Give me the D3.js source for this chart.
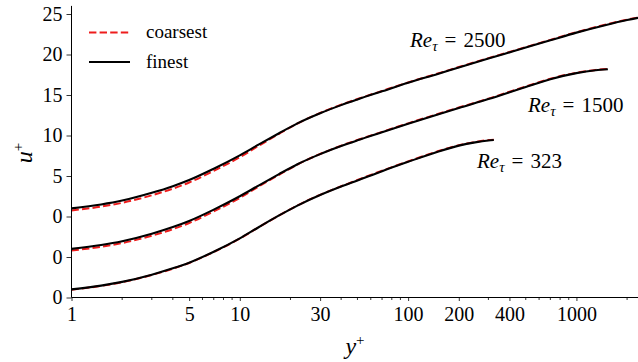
<!DOCTYPE html>
<html><head><meta charset="utf-8">
<script src="https://cdn.jsdelivr.net/npm/d3@7"></script>
<style>
html,body{margin:0;padding:0;background:#fff;}
svg{display:block;}
svg text{font-family:"Liberation Serif","DejaVu Serif","Times New Roman",serif !important;fill:#000;}
</style>
</head><body>
<script>
// ---- data ----
const caseLabels = ["323", "1500", "2500"];
const offsets = [-10, -5, 0];

const yPlus323 = [1,1.5,2,3,4,5,7,10,13,17,22,30,40,50,70,100,150,200,250,300,323];
const uFine323 = [1.0,1.47,1.93,2.82,3.6,4.3,5.65,7.3,8.7,10.1,11.35,12.65,13.7,14.45,15.6,16.75,18.0,18.75,19.15,19.38,19.44];
const uCoarse323 = [0.96,1.43,1.89,2.78,3.56,4.26,5.62,7.28,8.7,10.1,11.37,12.68,13.73,14.5,15.65,16.8,18.05,18.8,19.2,19.43,19.48];

const yPlus1500 = [1,1.5,2,3,4,5,7,10,13,17,22,30,40,50,70,100,150,200,300,500,700,1000,1300,1538];
const uFine1500 = [1.0,1.48,1.95,2.88,3.7,4.45,5.85,7.5,8.85,10.2,11.45,12.7,13.7,14.4,15.4,16.45,17.6,18.4,19.5,21.0,21.95,22.7,23.05,23.18];
const uCoarse1500 = [0.8,1.26,1.72,2.63,3.44,4.2,5.62,7.3,8.72,10.12,11.42,12.72,13.74,14.45,15.45,16.5,17.65,18.45,19.55,21.05,22.0,22.75,23.1,23.23];

const yPlus2500 = [1,1.5,2,3,4,5,7,10,13,17,22,30,40,50,70,100,150,200,300,421,700,1000,1500,2000,2500];
const uFine2500 = [1.0,1.49,1.97,2.92,3.74,4.5,5.9,7.55,8.9,10.25,11.5,12.75,13.75,14.45,15.45,16.5,17.6,18.4,19.5,20.4,21.75,22.7,23.65,24.25,24.65];
const uCoarse2500 = [0.75,1.22,1.69,2.62,3.44,4.2,5.63,7.32,8.75,10.18,11.48,12.78,13.8,14.5,15.5,16.55,17.65,18.45,19.55,20.45,21.8,22.75,23.7,24.3,24.7];

const xTickValues = [1,5,10,30,100,200,400,1000];
const yTickValues = [-10,-5,0,5,10,15,20,25];
const yTickLabels = ["0","0","0","5","10","15","20","25"];
const legendLabels = ["coarsest","finest"];

// ---- layout ----
const W = 638, H = 362;
const svg = d3.select("body").append("svg").attr("width", W).attr("height", H);

const x = d3.scaleLog().domain([1, 2500]).range([71.5, 643.4]);
const y = d3.scaleLinear().domain([-10, 26]).range([297.5, 5.9]);

const cases = [
  {yp: yPlus323, fine: uFine323, coarse: uCoarse323},
  {yp: yPlus1500, fine: uFine1500, coarse: uCoarse1500},
  {yp: yPlus2500, fine: uFine2500, coarse: uCoarse2500}
];

const line = d3.line().x(d => x(d[0])).y(d => y(d[1])).curve(d3.curveMonotoneX);

svg.append("clipPath").attr("id","clip").append("rect").attr("x",71.5).attr("y",0).attr("width",W-71.5).attr("height",300);
const lines = svg.append("g").attr("clip-path","url(#clip)");

cases.forEach((c, i) => {
  const pts = c.yp.map((v, k) => [v, c.coarse[k] + offsets[i]]);
  lines.append("path").attr("d", line(pts)).attr("fill","none")
    .attr("stroke","#ee1c1c").attr("stroke-width",2).attr("stroke-dasharray","7.4,3.2");
});
cases.forEach((c, i) => {
  const pts = c.yp.map((v, k) => [v, c.fine[k] + offsets[i]]);
  lines.append("path").attr("d", line(pts)).attr("fill","none")
    .attr("stroke","#000").attr("stroke-width",2.1);
});

// ---- axes ----
const xAxis = d3.axisBottom(x).tickValues(xTickValues).tickFormat(d3.format("d")).tickSize(3.5).tickPadding(6);
const gx = svg.append("g").attr("transform","translate(0,297.5)").call(xAxis);
const minor = [];
[1,10,100,1000].forEach(dec => { for (let m = 2; m <= 9; m++) { const v = dec*m; if (v <= 2500 && !xTickValues.includes(v)) minor.push(v); } });
gx.selectAll(".minor").data(minor).enter().append("line").attr("class","minor")
  .attr("x1", d => x(d)).attr("x2", d => x(d)).attr("y1", 0).attr("y2", 2.5)
  .attr("stroke","#000").attr("stroke-width",0.8);
gx.select(".domain").attr("d", `M71.5,0H${W}`).attr("stroke","#000").attr("stroke-width",1);
gx.selectAll(".tick line").attr("stroke-width",0.8);
gx.selectAll(".tick text").style("font-size","20px");

const yAxis = d3.axisLeft(y).tickValues(yTickValues).tickFormat((d,i) => yTickLabels[i]).tickSize(5).tickPadding(4);
const gy = svg.append("g").attr("transform","translate(71.5,0)").call(yAxis);
gy.select(".domain").attr("d", `M0,${y(26)}V297.5`).attr("stroke","#000").attr("stroke-width",1);
gy.selectAll(".tick line").attr("stroke-width",0.8);
gy.selectAll(".tick text").style("font-size","20px");

// axis labels
const xl = svg.append("text").attr("x", 355).attr("y", 354).attr("text-anchor","middle").style("font-size","24px");
xl.append("tspan").style("font-style","italic").text("y");
xl.append("tspan").attr("dy",-9).style("font-size","15px").text("+");

const yl = svg.append("text").attr("transform","translate(32,153) rotate(-90)").attr("text-anchor","middle").style("font-size","24px");
yl.append("tspan").style("font-style","italic").text("u");
yl.append("tspan").attr("dy",-9).style("font-size","15px").text("+");

// legend
const leg = svg.append("g");
leg.append("line").attr("x1",89).attr("x2",130).attr("y1",32.5).attr("y2",32.5)
  .attr("stroke","#ee1c1c").attr("stroke-width",2).attr("stroke-dasharray","7.4,3.2");
leg.append("line").attr("x1",89).attr("x2",130).attr("y1",62).attr("y2",62)
  .attr("stroke","#000").attr("stroke-width",2.1);
leg.append("text").attr("x",146).attr("y",38).style("font-size","19px").text(legendLabels[0]);
leg.append("text").attr("x",146).attr("y",67.5).style("font-size","19px").text(legendLabels[1]);

// annotations
const annPos = [[477,168],[528,112],[410,47]];
caseLabels.forEach((lab, i) => {
  const t = svg.append("text").attr("x", annPos[i][0]).attr("y", annPos[i][1]).style("font-size","21px");
  t.append("tspan").style("font-style","italic").text("Re");
  t.append("tspan").style("font-style","italic").style("font-size","15px").attr("dy",4).text("τ");
  t.append("tspan").attr("dy",-4).attr("dx",7).text("=");
  t.append("tspan").attr("dx",7).text(lab);
});
</script>
</body></html>
